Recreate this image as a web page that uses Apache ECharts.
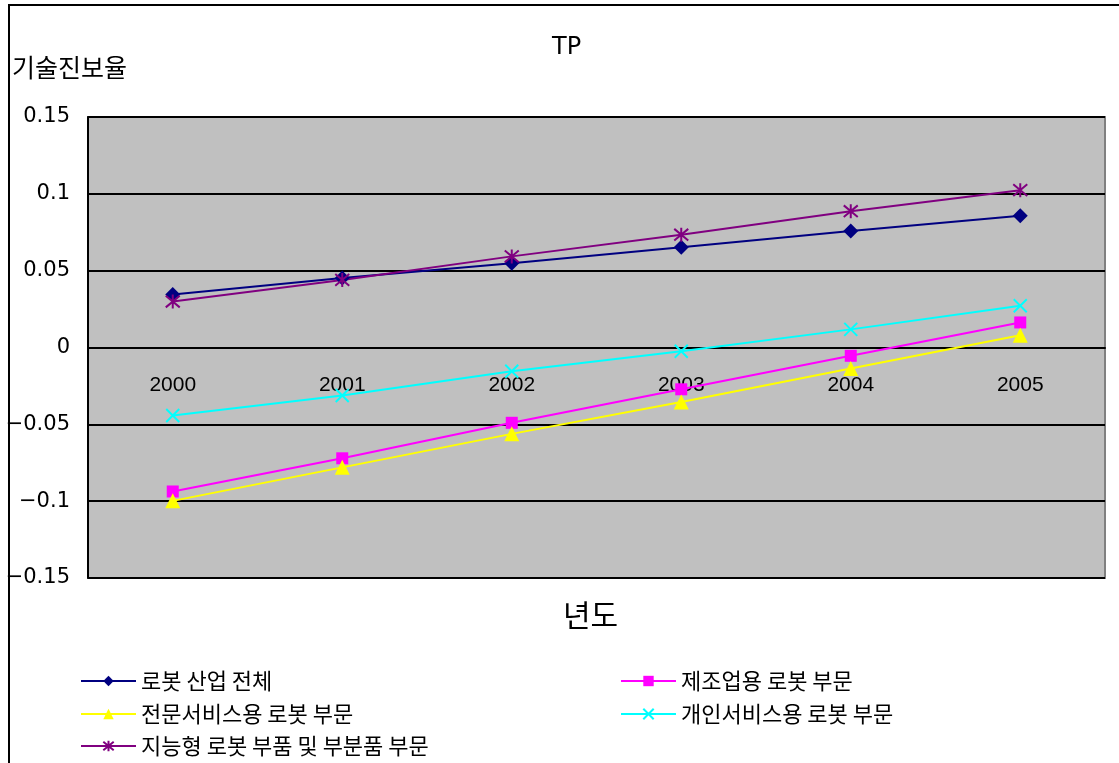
<!DOCTYPE html>
<html><head><meta charset="utf-8">
<script src="https://cdn.jsdelivr.net/npm/echarts@6/dist/echarts.min.js"></script>
<style>html,body{margin:0;padding:0;background:#fff}#c{width:1119px;height:763px}</style>
</head><body><div id="c"></div>
<script>
const categories = ['2000','2001','2002','2003','2004','2005'];
const seriesNames = ['로봇 산업 전체','제조업용 로봇 부문','전문서비스용 로봇 부문','개인서비스용 로봇 부문','지능형 로봇 부품 및 부분품 부문'];
const total = [0.0345, 0.0452, 0.0548, 0.0652, 0.0758, 0.0858];
const manufacturing = [-0.0937, -0.0721, -0.0490, -0.0272, -0.0054, 0.0163];
const professional = [-0.0998, -0.0780, -0.0562, -0.0355, -0.0137, 0.0080];
const personal = [-0.0442, -0.0312, -0.0155, -0.0024, 0.0118, 0.0272];
const components = [0.0299, 0.0440, 0.0593, 0.0734, 0.0887, 0.1024];
const yTicks = [-0.15, -0.1, -0.05, 0, 0.05, 0.1, 0.15];

const KFONT = 'Noto Sans CJK KR, sans-serif';
const NFONT = 'DejaVu Sans, sans-serif';
const XFONT = 'Liberation Sans, sans-serif';
const xSym = 'path://M0,0L10,10M10,0L0,10';
const starSym = 'path://M0,0L10,10M10,0L0,10M5,-1L5,11';
function mk(name, data, color, symbol, size, stroke) {
  return {
    name, type: 'line', data, symbol, symbolSize: size,
    lineStyle: { color, width: 2 },
    itemStyle: stroke ? { color: 'rgba(0,0,0,0)', borderColor: color, borderWidth: 2 } : { color, borderColor: color, borderWidth: 0 },
    emphasis: { disabled: true }, animation: false
  };
}
const chart = echarts.init(document.getElementById('c'));
const legPos = [[80,670],[620,670],[80,703],[620,703],[80,735]];
const gridTop = 117, gridBottom = 185, H = 763;
const plotH = H - gridTop - gridBottom;
chart.setOption({
  animation: false,
  backgroundColor: '#fff',
  title: { text: 'TP', left: 547, top: 31,
    textStyle: { fontFamily: NFONT, fontSize: 24, fontWeight: 'normal', color: '#000' } },
  graphic: [
    { type: 'rect', shape: { x: 9, y: 5, width: 1200, height: 800 }, style: { fill: 'none', stroke: '#000', lineWidth: 2 }, z: -1 },
    { type: 'text', left: 12, top: 55, style: { text: '기술진보율', font: '25px ' + KFONT, fill: '#000' } },
    { type: 'text', left: 563, top: 600, style: { text: '년도', font: '30px ' + KFONT, fill: '#000' } }
  ],
  legend: seriesNames.map((n, i) => ({
    data: [n], left: legPos[i][0], top: legPos[i][1], padding: 0,
    itemWidth: 55, itemHeight: 13, itemGap: 0,
    textStyle: { fontFamily: KFONT, fontSize: 22, color: '#000', padding: [0,0,0,0] },
    selectedMode: false
  })),
  grid: { left: 88, right: 14, top: gridTop, bottom: gridBottom, show: true,
    backgroundColor: '#c0c0c0', borderColor: '#808080', borderWidth: 2 },
  xAxis: {
    type: 'category', data: categories, boundaryGap: true, position: 'bottom',
    offset: -plotH / 2,
    axisLine: { onZero: false, lineStyle: { color: '#000', width: 2 } },
    axisTick: { inside: true, length: 9, lineStyle: { color: '#000', width: 2 } },
    axisLabel: { margin: 27, fontSize: 21, color: '#000', fontFamily: XFONT },
    splitLine: { show: false }
  },
  yAxis: {
    type: 'value', min: -0.15, max: 0.15, interval: 0.05,
    axisLine: { show: true, lineStyle: { color: '#000', width: 2 } },
    axisTick: { show: true, inside: true, length: 8, lineStyle: { color: '#000', width: 2 } },
    axisLabel: { margin: 18, fontSize: 21, color: '#000', fontFamily: NFONT,
      formatter: v => { const t = yTicks.find(x => Math.abs(x - v) < 1e-9); const s = String(t === undefined ? v : t); return s.replace('-', '−'); } },
    splitLine: { show: true, lineStyle: { color: '#000', width: 2 } }
  },
  series: [
    mk(seriesNames[0], total, '#000080', 'diamond', 15, false),
    mk(seriesNames[1], manufacturing, '#ff00ff', 'rect', 12, false),
    mk(seriesNames[2], professional, '#ffff00', 'triangle', 15, false),
    mk(seriesNames[3], personal, '#00ffff', xSym, 13, true),
    mk(seriesNames[4], components, '#800080', starSym, 14, true)
  ]
});
</script></body></html>
